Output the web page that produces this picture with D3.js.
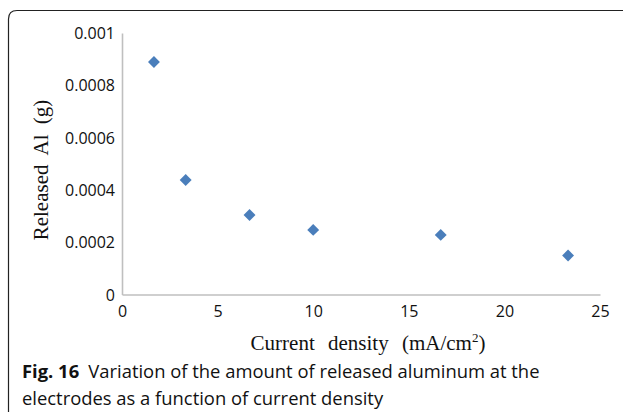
<!DOCTYPE html>
<html><head><meta charset="utf-8">
<script src="https://cdn.jsdelivr.net/npm/d3@7"></script>
<style>body{margin:0;background:#fff;} svg{display:block;}</style>
</head><body>
<script>
const currentDensity = [1.67, 3.33, 6.67, 10, 16.67, 23.33];
const releasedAl = [0.000889, 0.000438, 0.000304, 0.000247, 0.000228, 0.000149];
const xTicks = [0, 5, 10, 15, 20, 25];
const yTicks = [0, 0.0002, 0.0004, 0.0006, 0.0008, 0.001];
const yTickLabels = ["0", "0.0002", "0.0004", "0.0006", "0.0008", "0.001"];

const W = 623, H = 417;
const svg = d3.select("body").append("svg").attr("width", W).attr("height", H);

// frame
svg.append("path")
  .attr("d", "M8.5,412 L8.5,19 Q8.5,10.5 17,10.5 L623,10.5")
  .attr("fill", "none").attr("stroke", "#222").attr("stroke-width", 1.2);

const x = d3.scaleLinear().domain([0, 25]).range([122, 600]);
const y = d3.scaleLinear().domain([0, 0.001]).range([294.5, 33]);

const gx = svg.append("g").attr("transform", "translate(0,294.5)")
  .call(d3.axisBottom(x).tickValues(xTicks).tickSize(0).tickPadding(11).tickFormat(d3.format("d")));
const gy = svg.append("g").attr("transform", "translate(122,0)")
  .call(d3.axisLeft(y).tickValues(yTicks).tickSize(0).tickPadding(7).tickFormat((d, i) => yTickLabels[i]));
[gx, gy].forEach(g => {
  g.select(".domain").attr("stroke", "#bfbfbf").attr("stroke-width", 1.6);
  g.selectAll("text").attr("font-family", "'Open Sans', sans-serif").attr("font-size", 16).attr("fill", "#111");
});
gy.selectAll(".tick text").attr("dy", "0.35em");

// points (diamonds)
const sym = d3.symbol().type(d3.symbolDiamond2).size(90);
svg.append("g").selectAll("path").data(currentDensity).join("path")
  .attr("d", sym)
  .attr("transform", (d, i) => `translate(${x(d)},${y(releasedAl[i])})`)
  .attr("fill", "#4a7ebb");

// axis titles
const xt = svg.append("text").attr("x", 368).attr("y", 350).attr("text-anchor", "middle")
  .attr("font-family", "'Liberation Serif', 'Times New Roman', serif").attr("font-size", 21)
  .attr("word-spacing", 8).attr("fill", "#111");
xt.append("tspan").text("Current density (mA/cm");
xt.append("tspan").text("2").attr("font-size", 13).attr("dy", -8);
xt.append("tspan").text(")").attr("dy", 8);

svg.append("text").attr("transform", "translate(48,170) rotate(-90)").attr("text-anchor", "middle")
  .attr("font-family", "'Liberation Serif', 'Times New Roman', serif").attr("font-size", 21)
  .attr("word-spacing", 5).attr("fill", "#111")
  .text("Released Al (g)");

// caption
const cap = svg.append("text").attr("x", 22).attr("y", 378)
  .attr("font-family", "'Open Sans', sans-serif").attr("font-size", 18.4).attr("fill", "#111");
cap.append("tspan").text("Fig. 16").attr("font-weight", "bold");
cap.append("tspan").text("\u2002Variation of the amount of released aluminum at the");
svg.append("text").attr("x", 22).attr("y", 405)
  .attr("font-family", "'Open Sans', sans-serif").attr("font-size", 18.4).attr("fill", "#111")
  .text("electrodes as a function of current density");
</script>
</body></html>
